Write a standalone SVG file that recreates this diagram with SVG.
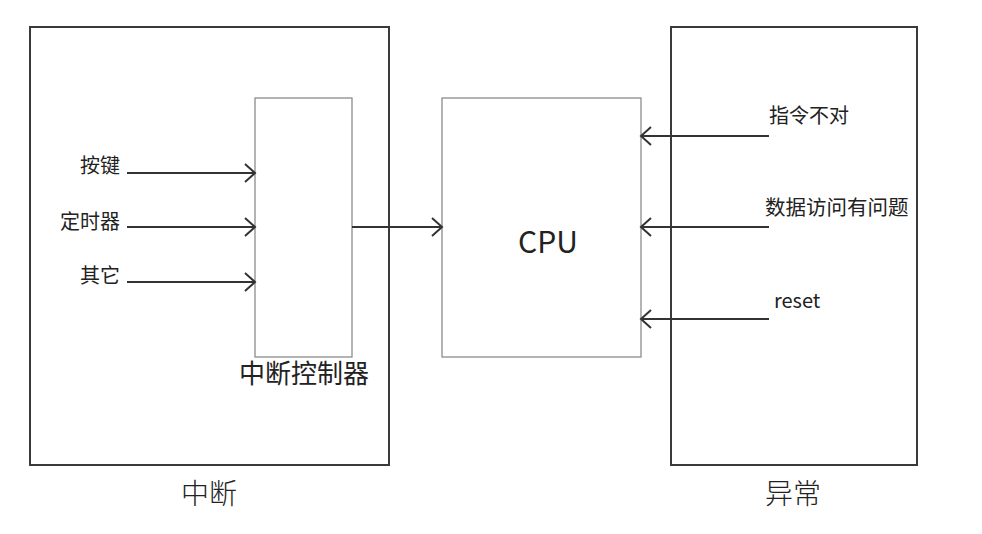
<svg xmlns="http://www.w3.org/2000/svg" width="982" height="534" viewBox="0 0 982 534">
<defs>
<marker id="arr" markerUnits="userSpaceOnUse" markerWidth="14" markerHeight="22" refX="11" refY="10" orient="auto" overflow="visible">
<path d="M1,1 L11,10 L1,19" fill="none" stroke="#333" stroke-width="2"/>
</marker>
</defs>
<style>
.outer{fill:none;stroke:#3a3a3a;stroke-width:2}
.inner{fill:#fff;stroke:#8c8c8c;stroke-width:1.3}
.line{fill:none;stroke:#333;stroke-width:2;marker-end:url(#arr)}
.t{font-family:"Noto Sans CJK SC","Noto Sans",sans-serif;fill:#222}
</style>
<rect width="982" height="534" fill="#fff"/>
<g id="interrupt">
<rect class="outer" x="30" y="27" width="359" height="438"/>
<text class="t" x="209" y="504" font-size="28" font-weight="300" text-anchor="middle">中断</text>
</g>
<g id="exception">
<rect class="outer" x="671" y="27" width="246" height="438"/>
<text class="t" x="793" y="504" font-size="28" font-weight="300" text-anchor="middle">异常</text>
</g>
<g id="controller">
<rect class="inner" x="255" y="98" width="97" height="259"/>
<text class="t" x="304" y="383" font-size="26" text-anchor="middle">中断控制器</text>
</g>
<g id="cpu">
<rect class="inner" x="442" y="98" width="199" height="259"/>
<text class="t" x="548" y="253" font-size="30" text-anchor="middle" font-family="'Noto Sans',sans-serif">CPU</text>
</g>
<g id="labels">
<text class="t" x="120" y="173" font-size="20" text-anchor="end">按键</text>
<text class="t" x="120" y="229" font-size="20" text-anchor="end">定时器</text>
<text class="t" x="120" y="283" font-size="20" text-anchor="end">其它</text>
<text class="t" x="769" y="123" font-size="20">指令不对</text>
<text class="t" x="765" y="215" font-size="20.5">数据访问有问题</text>
<text class="t" x="774" y="308" font-size="20">reset</text>
</g>
<g id="connectors">
<line class="line" x1="127" y1="173" x2="255" y2="173"/>
<line class="line" x1="127" y1="227" x2="255" y2="227"/>
<line class="line" x1="127" y1="282" x2="255" y2="282"/>
<line class="line" x1="352" y1="227" x2="442" y2="227"/>
<line class="line" x1="769" y1="136" x2="641" y2="136"/>
<line class="line" x1="769" y1="227" x2="641" y2="227"/>
<line class="line" x1="769" y1="319" x2="641" y2="319"/>
</g>
</svg>
